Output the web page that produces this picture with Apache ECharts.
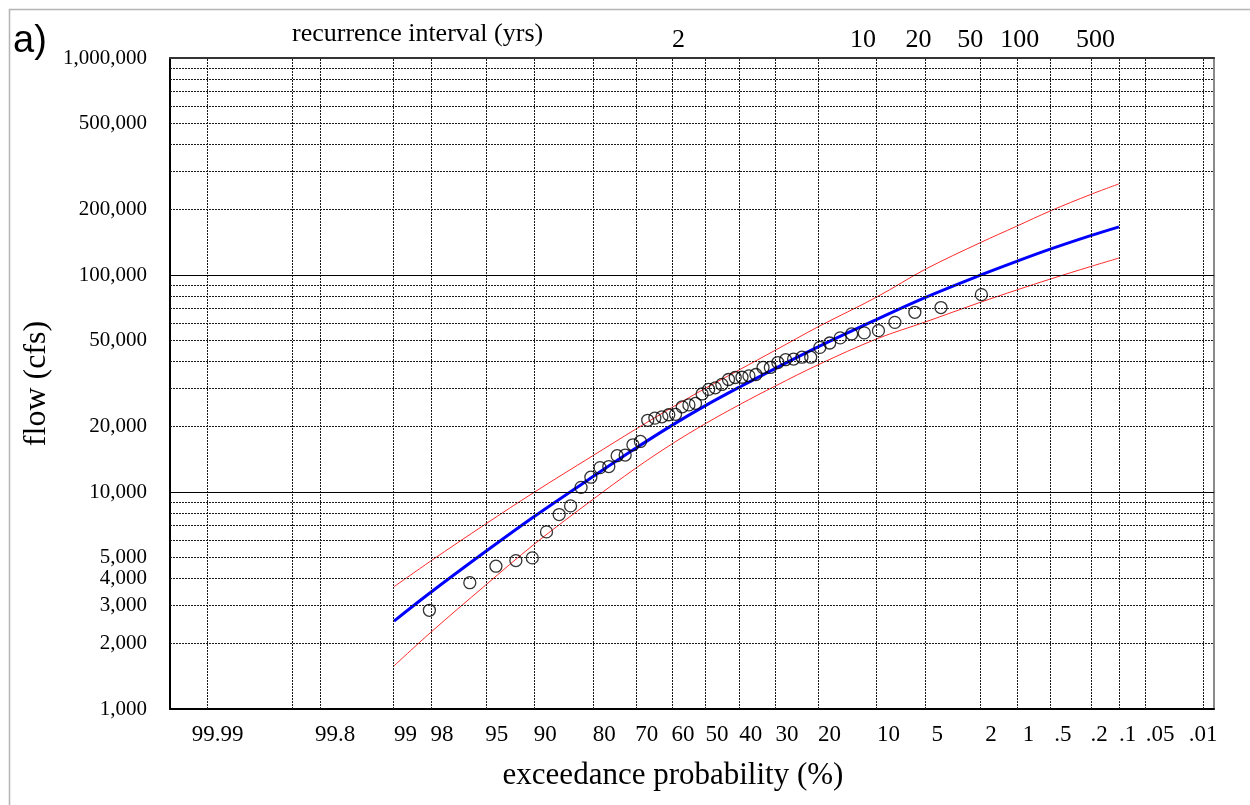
<!DOCTYPE html>
<html>
<head>
<meta charset="utf-8">
<script src="https://cdn.jsdelivr.net/npm/echarts@6/dist/echarts.min.js"></script>
<style>
  html, body { margin: 0; padding: 0; background: #fff; }
  #chart { width: 1250px; height: 805px; }
</style>
</head>
<body>
<div id="chart"></div>
<script>
// ---- probability paper: exceedance probability gridlines (%) ----
const probGrid   = [99.99, 99.9, 99.8, 99, 98, 95, 90, 80, 70, 60, 50, 40, 30, 20, 10, 5, 2, 1, 0.5, 0.2, 0.1, 0.05, 0.01];
const probLabels = ['99.99', '', '99.8', '99', '98', '95', '90', '80', '70', '60', '50', '40', '30', '20', '10', '5', '2', '1', '.5', '.2', '.1', '.05', '.01'];
// recurrence interval (years) shown along the top
const recurrenceYears = [2, 10, 20, 50, 100, 500];

// ---- flow gridlines (cfs) ----
const flowMinor  = [2000, 3000, 4000, 5000, 6000, 7000, 8000, 9000,
                    20000, 30000, 40000, 50000, 60000, 70000, 80000, 90000,
                    200000, 300000, 400000, 500000, 600000, 700000, 800000, 900000];
const flowMajor  = [10000, 100000];
const flowLabels = [1000, 2000, 3000, 4000, 5000, 10000, 20000, 50000, 100000, 200000, 500000, 1000000];

// ---- ranked annual peak flows and their plotting positions (%) ----
const peakProb = [1.96, 3.92, 5.88, 7.84, 9.80, 11.76, 13.73, 15.69, 17.65, 19.61,
                  21.57, 23.53, 25.49, 27.45, 29.41, 31.37, 33.33, 35.29, 37.25, 39.22,
                  41.18, 43.14, 45.10, 47.06, 49.02, 50.98, 52.94, 54.90, 56.86, 58.82,
                  60.78, 62.75, 64.71, 66.67, 68.63, 70.59, 72.55, 74.51, 76.47, 78.43,
                  80.39, 82.35, 84.31, 86.27, 88.24, 90.20, 92.16, 94.12, 96.08, 98.04];
const peakFlow = [81200, 70800, 67300, 60500, 55400, 54100, 53500, 51300, 48600, 46400,
                  41800, 41800, 41000, 40700, 39500, 37500, 37500, 34800, 34300, 33800,
                  33700, 33000, 31300, 30200, 29700, 28300, 25600, 25200, 24700, 22800,
                  22700, 22200, 21900, 21400, 17100, 16500, 14800, 14700, 13100, 12950,
                  11700, 10500, 8630, 7870, 6550, 4970, 4830, 4550, 3820, 2850];

// ---- fitted frequency curve with upper / lower confidence limits ----
const curveProb = [99, 98, 95, 90, 80, 70, 60, 50, 40, 30, 20, 10, 5, 2, 1, 0.5, 0.2, 0.1];
const fitFlow   = [2540, 3440, 5300, 7690, 11750, 15850, 20230, 25000, 30400, 37150, 46670, 62520, 78890, 99800, 115600, 131500, 151800, 166700];
const upperFlow = [3660, 4800, 7100, 9950, 14690, 19410, 24430, 30060, 36560, 45080, 57680, 79250, 106400, 140900, 167900, 197200, 235000, 263000];
const lowerFlow = [1580, 2250, 3710, 5730, 9230, 12820, 16600, 20650, 25230, 30830, 38550, 50820, 60810, 74820, 85310, 95720, 109400, 119700];

// inverse of the standard normal CDF (Acklam's rational approximation)
function normInv(p) {
  const a = [-3.969683028665376e+01, 2.209460984245205e+02, -2.759285104469687e+02, 1.383577518672690e+02, -3.066479806614716e+01, 2.506628277459239e+00];
  const b = [-5.447609879822406e+01, 1.615858368580409e+02, -1.556989798598866e+02, 6.680131188771972e+01, -1.328068155288572e+01];
  const c = [-7.784894002430293e-03, -3.223964580411365e-01, -2.400758277161838e+00, -2.549732539343734e+00, 4.374664141464968e+00, 2.938163982698783e+00];
  const d = [7.784695709041462e-03, 3.224671290700398e-01, 2.445134137142996e+00, 3.754408661907416e+00];
  const pl = 0.02425, ph = 1 - pl;
  let q, r;
  if (p < pl) {
    q = Math.sqrt(-2 * Math.log(p));
    return (((((c[0]*q+c[1])*q+c[2])*q+c[3])*q+c[4])*q+c[5]) / ((((d[0]*q+d[1])*q+d[2])*q+d[3])*q+1);
  }
  if (p <= ph) {
    q = p - 0.5; r = q * q;
    return (((((a[0]*r+a[1])*r+a[2])*r+a[3])*r+a[4])*r+a[5])*q / (((((b[0]*r+b[1])*r+b[2])*r+b[3])*r+b[4])*r+1);
  }
  q = Math.sqrt(-2 * Math.log(1 - p));
  return -(((((c[0]*q+c[1])*q+c[2])*q+c[3])*q+c[4])*q+c[5]) / ((((d[0]*q+d[1])*q+d[2])*q+d[3])*q+1);
}
// exceedance probability (%) -> standard normal variate used by the x axis
const probToZ = p => normInv(1 - p / 100);

const SERIF = '"Liberation Serif", "DejaVu Serif", serif';
const Z_MIN = -4, Z_MAX = 3.8;

const gridZ = probGrid.map(probToZ);
// labels drawn centred on their gridline; the rest start at the gridline
const centredLabels = ['99.99', '99.8', '.01'];
const labelIdxLeft = [], labelIdxCentre = [];
probLabels.forEach((t, i) => {
  if (!t) return;
  (centredLabels.includes(t) ? labelIdxCentre : labelIdxLeft).push(i);
});
const labelFor = v => {
  let best = 0, bd = Infinity;
  gridZ.forEach((z, i) => { const dd = Math.abs(z - v); if (dd < bd) { bd = dd; best = i; } });
  return best;
};
// small horizontal nudges of individual tick texts (px)
const bottomNudge = { '99.99': 20, '99.8': 30, '5': 6, '2': 5, '1': 6, '.5': 4 };
const topNudge = { 2: -27, 10: -14, 20: -7, 50: -10, 100: 3, 500: 5 };

function bottomFormatter(v) {
  const t = probLabels[labelFor(v)];
  const n = bottomNudge[t];
  return n ? '{n' + n + '|' + t + '}' : t;
}
const bottomRich = {};
Object.values(bottomNudge).forEach(n => {
  bottomRich['n' + n] = { padding: [0, 0, 0, n], fontSize: 23, fontFamily: SERIF, color: '#000' };
});

const recurZ = recurrenceYears.map(T => normInv(1 - 1 / T));
const topRich = {};
recurrenceYears.forEach((T, i) => {
  const n = topNudge[T] || 0;
  topRich['t' + i] = {
    padding: n < 0 ? [0, -2 * n, 0, 0] : [0, 0, 0, 2 * n],
    fontSize: 26, fontFamily: SERIF, color: '#000'
  };
});
function topFormatter(v) {
  let best = 0, bd = Infinity;
  recurZ.forEach((z, i) => { const dd = Math.abs(z - v); if (dd < bd) { bd = dd; best = i; } });
  return '{t' + best + '|' + recurrenceYears[best] + '}';
}

// gridlines of the probability paper
const dotted = { color: '#1a1a1a', width: 1, type: [2, 1] };
const gridLines = [];
gridZ.forEach(z => gridLines.push({ xAxis: z, lineStyle: dotted }));
flowMinor.forEach(f => gridLines.push({ yAxis: f, lineStyle: dotted }));
flowMajor.forEach(f => gridLines.push({ yAxis: f, lineStyle: { color: '#000', width: 1, type: 'solid' } }));

const pairs = (probs, flows) => probs.map((p, i) => [probToZ(p), flows[i]]);

const chart = echarts.init(document.getElementById('chart'), null, { renderer: 'canvas' });
chart.setOption({
  animation: false,
  backgroundColor: '#fff',
  textStyle: { fontFamily: SERIF, color: '#000' },
  grid: { left: 170, right: 36, top: 58, bottom: 96, containLabel: false },
  graphic: [
    { type: 'rect', left: 7, top: 7, shape: { width: 1300, height: 900 }, style: { fill: 'none', stroke: '#b4b4b4', lineWidth: 1.5 }, silent: true },
    { type: 'text', left: 13, top: 23, style: { text: 'a)', font: '38px "Liberation Sans", Arial, sans-serif', fill: '#000' } },
    { type: 'text', left: 292, top: 21, style: { text: 'recurrence interval (yrs)', font: '26px ' + SERIF, fill: '#000' } }
  ],
  xAxis: [
    {
      type: 'value', min: Z_MIN, max: Z_MAX, position: 'bottom',
      axisLine: { show: true, onZero: false, lineStyle: { color: '#000', width: 2 } },
      axisTick: { show: false }, splitLine: { show: false },
      axisLabel: {
        customValues: labelIdxLeft.map(i => gridZ[i]),
        formatter: bottomFormatter, rich: bottomRich,
        align: 'left', margin: 14, fontSize: 23, fontFamily: SERIF, color: '#000'
      },
      name: 'exceedance probability (%)', nameLocation: 'middle', nameGap: 51,
      nameTextStyle: { fontSize: 31, fontFamily: SERIF, color: '#000', padding: [0, 38, 0, 0] }
    },
    {
      type: 'value', min: Z_MIN, max: Z_MAX, position: 'bottom',
      axisLine: { show: false }, axisTick: { show: false }, splitLine: { show: false },
      axisLabel: {
        customValues: labelIdxCentre.map(i => gridZ[i]),
        formatter: bottomFormatter, rich: bottomRich,
        align: 'center', margin: 14, fontSize: 23, fontFamily: SERIF, color: '#000'
      }
    },
    {
      type: 'value', min: Z_MIN, max: Z_MAX, position: 'top',
      axisLine: { show: true, onZero: false, lineStyle: { color: '#333', width: 2 } },
      axisTick: { show: false }, splitLine: { show: false },
      axisLabel: {
        customValues: recurZ, formatter: topFormatter, rich: topRich,
        align: 'center', margin: 5, fontSize: 26, fontFamily: SERIF, color: '#000'
      }
    }
  ],
  yAxis: [
    {
      type: 'log', logBase: 10, min: 1000, max: 1000000, position: 'left',
      axisLine: { show: true, onZero: false, lineStyle: { color: '#000', width: 2 } },
      axisTick: { show: false }, splitLine: { show: false },
      axisLabel: {
        customValues: flowLabels,
        formatter: v => Math.round(v).toLocaleString('en-US'),
        margin: 23, fontSize: 21, fontFamily: SERIF, color: '#000'
      },
      name: 'flow (cfs)', nameLocation: 'middle', nameGap: 106, nameRotate: 90,
      nameTextStyle: { fontSize: 32, fontFamily: SERIF, color: '#000' }
    },
    {
      type: 'log', logBase: 10, min: 1000, max: 1000000, position: 'right',
      axisLine: { show: true, onZero: false, lineStyle: { color: '#8a8a8a', width: 2 } },
      axisTick: { show: false }, axisLabel: { show: false }, splitLine: { show: false }
    }
  ],
  series: [
    {
      name: 'grid', type: 'line', data: [], silent: true, z: 1,
      markLine: { silent: true, symbol: ['none', 'none'], label: { show: false }, animation: false, data: gridLines }
    },
    {
      name: 'upper limit', type: 'line', data: pairs(curveProb, upperFlow), smooth: 0.35,
      showSymbol: false, z: 3, lineStyle: { color: '#ff2a2a', width: 1 }
    },
    {
      name: 'lower limit', type: 'line', data: pairs(curveProb, lowerFlow), smooth: 0.35,
      showSymbol: false, z: 3, lineStyle: { color: '#ff2a2a', width: 1 }
    },
    {
      name: 'fitted', type: 'line', data: pairs(curveProb, fitFlow), smooth: 0.35,
      showSymbol: false, z: 4, lineStyle: { color: '#0000ff', width: 3 }
    },
    {
      name: 'annual peaks', type: 'scatter', data: pairs(peakProb, peakFlow), z: 5,
      symbol: 'circle', symbolSize: 12,
      itemStyle: { color: 'rgba(0,0,0,0)', borderColor: '#000', borderWidth: 1.3 }
    }
  ]
});
</script>
</body>
</html>
